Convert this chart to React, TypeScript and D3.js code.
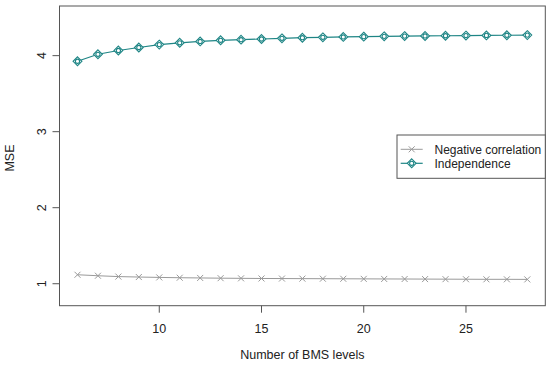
import React from "react";
import * as d3 from "d3";

const levels = [6,7,8,9,10,11,12,13,14,15,16,17,18,19,20,21,22,23,24,25,26,27,28];
const negCorr = [1.118,1.105,1.094,1.088,1.083,1.079,1.076,1.073,1.071,1.069,1.068,1.067,1.066,1.065,1.064,1.063,1.062,1.061,1.060,1.059,1.058,1.058,1.057];
const independence = [3.926,4.018,4.068,4.107,4.145,4.169,4.187,4.202,4.210,4.219,4.228,4.236,4.241,4.246,4.250,4.254,4.257,4.259,4.262,4.264,4.266,4.268,4.270];
const xTicks = [10,15,20,25];
const yTicks = [1,2,3,4];
const seriesNames = ["Negative correlation","Independence"];

const W = 550, H = 365;
const L = 59.5, R = 545.3, T = 6, B = 305.7;
const GRAY = "#9a9a9a";
const TEAL = "#1e8585";
const FONT = "Liberation Sans, Arial, sans-serif";
const FS = 12.5;
const LFS = 12;

export default function App() {
  const x = d3.scaleLinear().domain([5.12, 28.88]).range([L, R]);
  const y = d3.scaleLinear().domain([0.711, 4.653]).range([B, T]);
  const line = d3.line<number>().x((_, i) => x(levels[i])).y(d => y(d));

  const cross = (cx: number, cy: number, k: string, s = 3) => (
    <g key={k} stroke={GRAY} strokeWidth={1}>
      <line x1={cx - s} y1={cy - s} x2={cx + s} y2={cy + s} />
      <line x1={cx - s} y1={cy + s} x2={cx + s} y2={cy - s} />
    </g>
  );
  const diamond = (cx: number, cy: number, k: string, s = 4.4) => (
    <g key={k} stroke={TEAL} strokeWidth={1.1} fill="white">
      <path d={`M${cx},${cy - s}L${cx + s},${cy}L${cx},${cy + s}L${cx - s},${cy}Z`} />
      <circle cx={cx} cy={cy} r={2.1} fill="none" />
    </g>
  );

  const legX = 397, legY = 135, legW = R - 397, legH = 43.3;
  return (
    <svg width={W} height={H} style={{ position: "absolute", left: 0, top: 0 }} fontFamily={FONT}>
      <rect width={W} height={H} fill="white" />
      <path d={line(negCorr) || ""} fill="none" stroke={GRAY} strokeWidth={1} />
      {negCorr.map((v, i) => cross(x(levels[i]), y(v), "n" + i))}
      <path d={line(independence) || ""} fill="none" stroke={TEAL} strokeWidth={1.2} />
      {independence.map((v, i) => diamond(x(levels[i]), y(v), "i" + i))}
      <rect x={L} y={T} width={R - L} height={B - T} fill="none" stroke="#555" strokeWidth={1} />
      {xTicks.map(t => (
        <g key={"x" + t}>
          <line x1={x(t)} x2={x(t)} y1={B} y2={B + 7} stroke="#555" />
          <text x={x(t)} y={B + 27} fontSize={FS} textAnchor="middle" fill="#222">{t}</text>
        </g>
      ))}
      {yTicks.map(t => (
        <g key={"y" + t}>
          <line x1={L - 7} x2={L} y1={y(t)} y2={y(t)} stroke="#555" />
          <text transform={`translate(${L - 18},${y(t)}) rotate(-90)`} fontSize={FS} textAnchor="middle" fill="#222" dy="0.35em">{t}</text>
        </g>
      ))}
      <text transform={`translate(14,158) rotate(-90)`} fontSize={FS} textAnchor="middle" fill="#222">MSE</text>
      <text x={(L + R) / 2} y={359} fontSize={FS} textAnchor="middle" fill="#222">Number of BMS levels</text>
      <rect x={legX} y={legY} width={legW} height={legH} fill="white" stroke="#555" strokeWidth={1} />
      <line x1={400.7} x2={422.7} y1={149.3} y2={149.3} stroke={GRAY} />
      {cross(411.7, 149.3, "lc")}
      <line x1={400.7} x2={422.7} y1={163.3} y2={163.3} stroke={TEAL} strokeWidth={1.2} />
      {diamond(411.7, 163.3, "ld")}
      <text x={434.5} y={149.3} dy="0.35em" fontSize={LFS} fill="#222">{seriesNames[0]}</text>
      <text x={434.5} y={163.3} dy="0.35em" fontSize={LFS} fill="#222">{seriesNames[1]}</text>
    </svg>
  );
}
